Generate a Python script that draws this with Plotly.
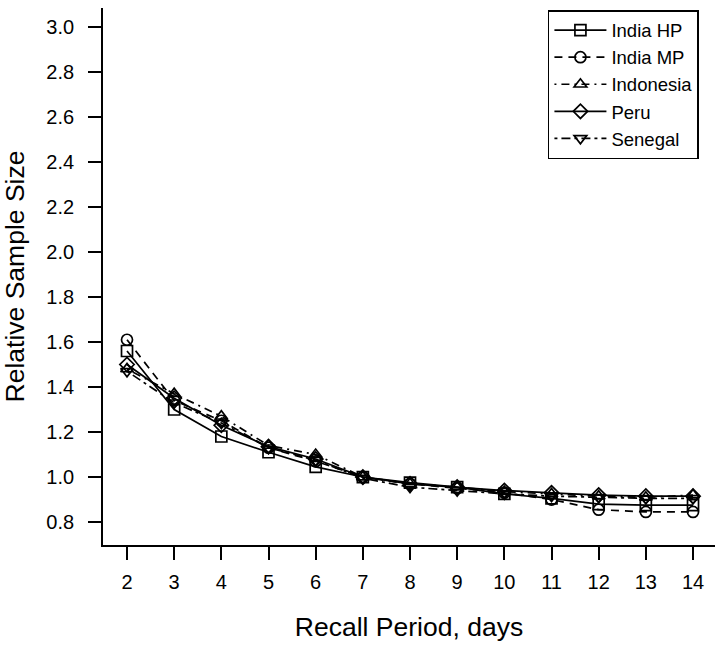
import plotly.graph_objects as go

# Recall period (days) and relative sample size for each site
recall_days = [2, 3, 4, 5, 6, 7, 8, 9, 10, 11, 12, 13, 14]

india_hp = [1.56, 1.30, 1.18, 1.11, 1.045, 1.00, 0.975, 0.955, 0.925, 0.905, 0.880, 0.875, 0.875]
india_mp = [1.61, 1.34, 1.25, 1.13, 1.070, 1.00, 0.970, 0.950, 0.930, 0.900, 0.855, 0.845, 0.845]
indonesia = [1.48, 1.37, 1.27, 1.14, 1.100, 1.00, 0.970, 0.955, 0.935, 0.925, 0.915, 0.910, 0.920]
peru = [1.50, 1.35, 1.23, 1.135, 1.080, 1.00, 0.970, 0.955, 0.940, 0.930, 0.920, 0.915, 0.915]
senegal = [1.47, 1.33, 1.24, 1.13, 1.075, 0.995, 0.955, 0.940, 0.925, 0.915, 0.910, 0.905, 0.905]

series_names = ["India HP", "India MP", "Indonesia", "Peru", "Senegal"]
y_ticks = [0.8, 1.0, 1.2, 1.4, 1.6, 1.8, 2.0, 2.2, 2.4, 2.6, 2.8, 3.0]

styles = [
    ("square-open", "solid"),
    ("circle-open", "8px,6px"),
    ("triangle-up-open", "2px,5px,8px,5px"),
    ("diamond-open", "solid"),
    ("triangle-down-open", "3px,4px,9px,4px"),
]

fig = go.Figure()
for name, ys, (sym, dash) in zip(series_names, [india_hp, india_mp, indonesia, peru, senegal], styles):
    fig.add_trace(go.Scatter(
        x=recall_days, y=ys, name=name, mode="lines+markers",
        line=dict(color="black", width=1.7, dash=dash),
        marker=dict(symbol=sym, size=11, color="black", line=dict(color="black", width=1.7)),
    ))

font_family = "Liberation Sans, Arial, Helvetica, sans-serif"

fig.update_layout(
    width=720, height=645,
    margin=dict(l=103, r=5, t=8, b=100),
    paper_bgcolor="white", plot_bgcolor="white",
    font=dict(family=font_family, size=19, color="black"),
    showlegend=True,
    legend=dict(
        x=0.727, y=0.996, xanchor="left", yanchor="top",
        bordercolor="black", borderwidth=1.5,
        font=dict(size=18.5), bgcolor="white",
        tracegroupgap=0, itemwidth=52,
    ),
    xaxis=dict(
        range=[1.491, 14.466], tickvals=recall_days,
        showline=True, linecolor="black", linewidth=1.7, mirror=False,
        ticks="outside", ticklen=13, tickwidth=1.5, tickcolor="black",
        ticklabelstandoff=5,
        showgrid=False, zeroline=False,
        tickfont=dict(size=20),
        title=dict(text="Recall Period, days", font=dict(size=26.5), standoff=26),
    ),
    yaxis=dict(
        range=[0.698, 3.084], tickvals=y_ticks, tickformat=".1f",
        showline=True, linecolor="black", linewidth=1.7, mirror=False,
        ticks="outside", ticklen=13, tickwidth=1.5, tickcolor="black",
        ticklabelstandoff=10,
        showgrid=False, zeroline=False,
        tickfont=dict(size=20),
        title=dict(text="Relative Sample Size", font=dict(size=26.5), standoff=18),
    ),
)

fig.write_html("out.html")
